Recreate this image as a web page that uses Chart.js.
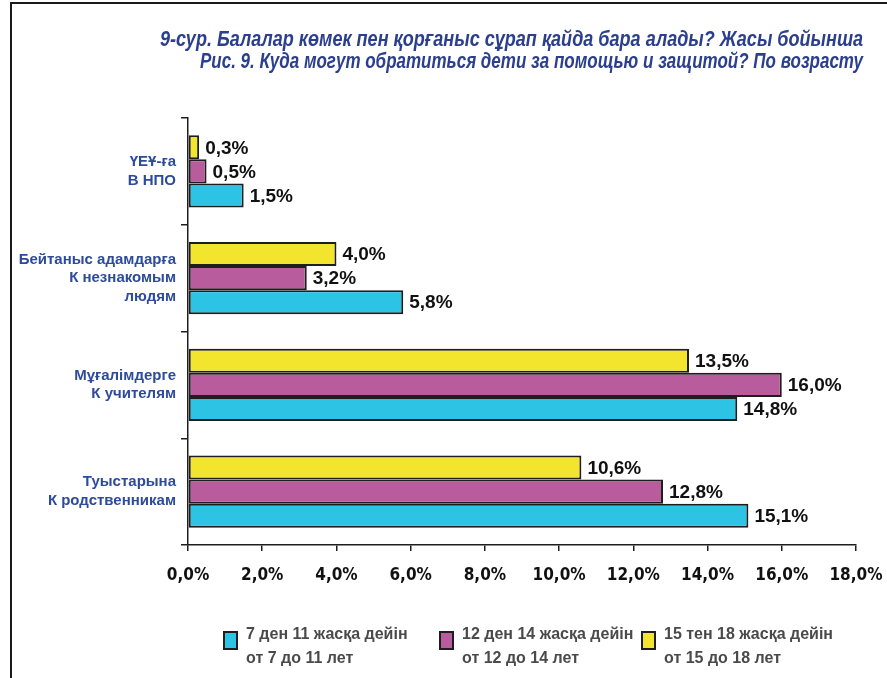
<!DOCTYPE html>
<html>
<head>
<meta charset="utf-8">
<script src="https://cdn.jsdelivr.net/npm/chart.js@4/dist/chart.umd.min.js"></script>
<style>
  html, body { margin: 0; padding: 0; background: #fff; }
  #wrap { width: 887px; height: 678px; position: relative; }
</style>
</head>
<body>
<div id="wrap"><canvas id="c" width="887" height="678"></canvas></div>
<script>
// Where children can turn for help and protection, by age group (% of answers)
const titleLines = [
  '9-сур. Балалар көмек пен қорғаныс сұрап қайда бара алады? Жасы бойынша',
  'Рис. 9. Куда могут обратиться дети за помощью и защитой? По возрасту'
];
const categories = [
  ['ҮЕҰ-ға', 'В НПО'],
  ['Бейтаныс адамдарға', 'К незнакомым', 'людям'],
  ['Мұғалімдерге', 'К учителям'],
  ['Туыстарына', 'К родственникам']
];
const age7to11 = [1.5, 5.8, 14.8, 15.1];
const age12to14 = [0.5, 3.2, 16.0, 12.8];
const age15to18 = [0.3, 4.0, 13.5, 10.6];
const seriesNames = {
  age7to11: ['7 ден 11 жасқа дейін', 'от 7 до 11 лет'],
  age12to14: ['12 ден 14 жасқа дейін', 'от 12 до 14 лет'],
  age15to18: ['15 тен 18 жасқа дейін', 'от 15 до 18 лет']
};
const xMin = 0, xMax = 18, xStep = 2;

const COLORS = { age7to11: '#2CC3E5', age12to14: '#B85C9D', age15to18: '#F3E42E' };
const BLUE_TEXT = '#2D4B9B';
const CONDENSED = '"DejaVu Sans Condensed", "Liberation Sans Narrow", Arial, sans-serif';
const SANS = '"Liberation Sans", Arial, sans-serif';

const pct = v => v.toFixed(1).replace('.', ',') + '%';

// bars are stacked top-to-bottom in dataset order: 15-18 on top, 7-11 at the bottom
const datasets = [
  { key: 'age15to18', data: age15to18 },
  { key: 'age12to14', data: age12to14 },
  { key: 'age7to11', data: age7to11 }
].map(d => ({
  label: seriesNames[d.key].join(' / '),
  names: seriesNames[d.key],
  data: d.data,
  backgroundColor: COLORS[d.key],
  borderColor: '#1e1e1e',
  borderWidth: 2,
  borderSkipped: false,
  barPercentage: 1,
  categoryPercentage: 0.675
}));

// right-aligned text squeezed horizontally to a given width, like a condensed face
function condensedText(ctx, text, xRight, y, width) {
  const squeeze = width / ctx.measureText(text).width;
  ctx.save();
  ctx.translate(xRight, y);
  ctx.scale(squeeze, 1);
  ctx.textAlign = 'right';
  ctx.fillText(text, 0, 0);
  ctx.restore();
}

const decorations = {
  id: 'decorations',
  beforeDraw(chart) {
    const ctx = chart.ctx;
    ctx.save();
    ctx.fillStyle = '#fff';
    ctx.fillRect(0, 0, chart.width, chart.height);
    // page frame
    ctx.strokeStyle = '#1a1a1a';
    ctx.lineWidth = 2;
    ctx.beginPath();
    ctx.moveTo(11, chart.height);
    ctx.lineTo(11, 3);
    ctx.lineTo(chart.width, 3);
    ctx.stroke();
    // title
    ctx.fillStyle = '#2B3F8E';
    ctx.font = 'italic bold 22px ' + SANS;
    ctx.textBaseline = 'middle';
    condensedText(ctx, titleLines[0], 863, 40, 703);
    condensedText(ctx, titleLines[1], 863, 62, 663);
    ctx.restore();
  },
  afterDatasetsDraw(chart) {
    const ctx = chart.ctx;
    ctx.save();
    ctx.font = 'bold 19px ' + SANS;
    ctx.textAlign = 'left';
    ctx.textBaseline = 'middle';
    chart.data.datasets.forEach((ds, i) => {
      chart.getDatasetMeta(i).data.forEach((bar, j) => {
        const txt = pct(ds.data[j]);
        const w = ctx.measureText(txt).width;
        const x = bar.x + 6;
        ctx.fillStyle = '#fff';
        ctx.fillRect(x - 2, bar.y - 10, w + 4, 20);
        ctx.fillStyle = '#111';
        ctx.fillText(txt, x, bar.y + 1);
      });
    });
    ctx.restore();
  },
  afterDraw(chart) {
    const ctx = chart.ctx;
    const items = chart.data.datasets.slice().reverse();
    const boxX = [224, 440, 642];
    ctx.save();
    items.forEach((ds, k) => {
      const bx = boxX[k];
      ctx.fillStyle = ds.backgroundColor;
      ctx.fillRect(bx, 632, 13, 17);
      ctx.strokeStyle = '#1e1e1e';
      ctx.lineWidth = 2;
      ctx.strokeRect(bx, 632, 13, 17);
      ctx.fillStyle = '#4a4a4a';
      ctx.font = 'bold 16px ' + SANS;
      ctx.textAlign = 'left';
      ctx.textBaseline = 'middle';
      ctx.fillText(ds.names[0], bx + 22, 635);
      ctx.fillText(ds.names[1], bx + 22, 659);
    });
    ctx.restore();
  }
};

new Chart(document.getElementById('c'), {
  type: 'bar',
  data: { labels: categories, datasets },
  plugins: [decorations],
  options: {
    indexAxis: 'y',
    responsive: false,
    animation: false,
    events: [],
    layout: { padding: { left: 0, right: 31, top: 118, bottom: 0 } },
    plugins: { legend: { display: false }, tooltip: { enabled: false }, title: { display: false } },
    scales: {
      x: {
        min: xMin, max: xMax,
        afterFit(scale) { scale.height = 133; scale.paddingLeft = 0; scale.paddingRight = 0; },
        ticks: {
          stepSize: xStep,
          callback: v => pct(v),
          color: '#111',
          font: { family: CONDENSED, weight: 'bold', size: 17 },
          padding: 14,
          maxRotation: 0
        },
        grid: { drawOnChartArea: false, drawTicks: true, tickLength: 6, color: '#1e1e1e', lineWidth: 1.5 },
        border: { display: true, color: '#1e1e1e', width: 1.5 }
      },
      y: {
        afterFit(scale) { scale.width = 188; },
        ticks: {
          color: BLUE_TEXT,
          font: { family: SANS, weight: 'bold', size: 15, lineHeight: 1.25 },
          padding: 5
        },
        grid: { drawOnChartArea: false, drawTicks: true, tickLength: 7, color: '#1e1e1e', lineWidth: 1.5, offset: true },
        border: { display: true, color: '#1e1e1e', width: 1.5 }
      }
    }
  }
});
</script>
</body>
</html>
